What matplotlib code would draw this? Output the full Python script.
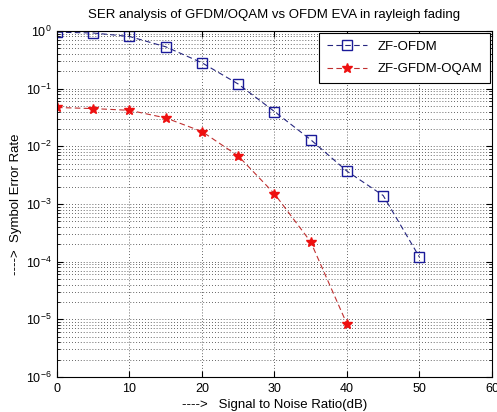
import matplotlib
matplotlib.use("Agg")
import matplotlib.pyplot as plt
import numpy as np
from matplotlib.ticker import LogLocator

snr_ofdm = [0, 5, 10, 15, 20, 25, 30, 35, 40, 45, 50]
ser_ofdm = [0.95, 0.92, 0.80, 0.53, 0.28, 0.12, 0.040, 0.013, 0.0037, 0.0014, 1.2e-4]
snr_gfdm = [0, 5, 10, 15, 20, 25, 30, 35, 40]
ser_gfdm = [0.047, 0.045, 0.042, 0.031, 0.018, 0.0068, 0.0015, 2.2e-4, 8.3e-6]
xticks = [0, 10, 20, 30, 40, 50, 60]
yticks = [1e-6, 1e-5, 1e-4, 1e-3, 1e-2, 1e-1, 1e0]

plt.rcParams['font.family'] = ['Liberation Sans', 'DejaVu Sans']
plt.rcParams['mathtext.fontset'] = 'custom'
plt.rcParams['mathtext.rm'] = 'Liberation Sans'
plt.rcParams['mathtext.it'] = 'Liberation Sans'

fig = plt.figure(figsize=(4.97, 4.12), dpi=100)
ax = fig.add_axes([0.1147, 0.085, 0.875, 0.84])

ax.semilogy(snr_ofdm, ser_ofdm, linestyle='--', color='#262680', lw=0.8,
            marker='s', markersize=7, markerfacecolor='none', markeredgecolor='#1a1a99',
            markeredgewidth=1.0, label='ZF-OFDM', dashes=(5, 3))
ax.semilogy(snr_gfdm, ser_gfdm, linestyle='--', color='#c03030', lw=0.8,
            marker='*', markersize=7, markerfacecolor='#ee1010', markeredgecolor='#ee1010',
            label='ZF-GFDM-OQAM', dashes=(5, 3))

ax.set_xlim(0, 60)
ax.set_ylim(1e-6, 1e0)
ax.set_xticks(xticks)
ax.set_yticks(yticks)
ax.yaxis.set_minor_locator(LogLocator(base=10, subs=np.arange(2, 10)))
ax.tick_params(which='both', direction='in', top=True, right=True, labelsize=9)
ax.tick_params(which='major', length=4, pad=4)
ax.tick_params(which='minor', length=2)
ax.grid(True, which='major', linestyle=(0, (1, 2.5)), color='#333333', lw=0.6)
ax.yaxis.grid(True, which='minor', linestyle=(0, (1, 2.5)), color='#333333', lw=0.6)
for s in ax.spines.values():
    s.set_linewidth(0.8)

ax.set_title('SER analysis of GFDM/OQAM vs OFDM EVA in rayleigh fading', fontsize=9.5, pad=9)
ax.set_xlabel('---->   Signal to Noise Ratio(dB)', fontsize=9.5, labelpad=3)
ax.set_ylabel('---->  Symbol Error Rate', fontsize=9.5, labelpad=3)

leg = ax.legend(loc='upper right', fontsize=9.5, fancybox=False, framealpha=1,
                edgecolor='black', borderaxespad=0.15, handlelength=3,
                labelspacing=0.75, borderpad=0.6)
leg.get_frame().set_linewidth(0.8)

fig.savefig('out.png', dpi=100)
